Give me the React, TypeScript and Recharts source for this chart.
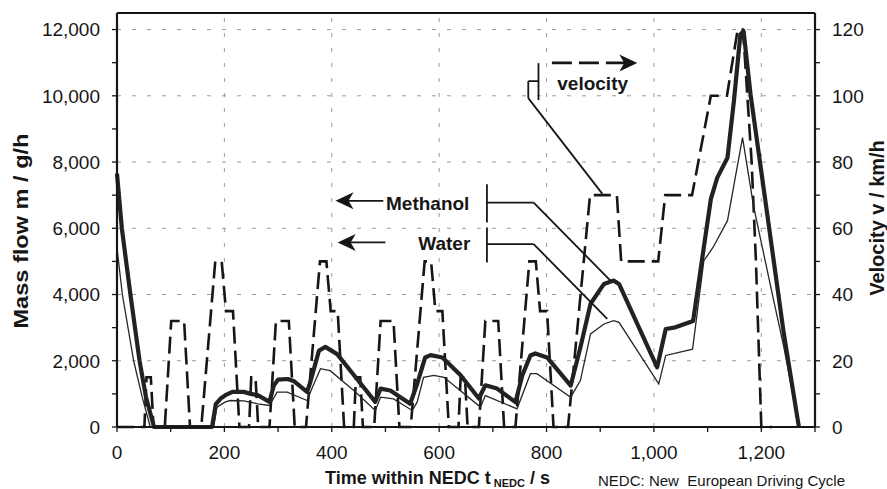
import React from "react";
import {
  LineChart, Line, XAxis, YAxis, ReferenceLine, ReferenceDot,
} from "recharts";

// velocity of the NEDC, [t in s, v in km/h]
const velocityPoints: [number, number][] = [
  [0, 0], [51, 0], [55, 15], [63, 15], [68, 0], [89, 0], [101, 32], [125, 32], [136, 0],
  [157, 0], [183, 50], [195, 50], [203, 35], [216, 35], [228, 0],
  [246, 0], [250, 15], [258, 15], [263, 0], [284, 0], [296, 32], [320, 32], [331, 0],
  [352, 0], [378, 50], [390, 50], [398, 35], [411, 35], [423, 0],
  [441, 0], [445, 15], [453, 15], [458, 0], [479, 0], [491, 32], [515, 32], [526, 0],
  [547, 0], [573, 50], [585, 50], [593, 35], [606, 35], [618, 0],
  [636, 0], [640, 15], [648, 15], [653, 0], [674, 0], [686, 32], [710, 32], [721, 0],
  [742, 0], [768, 50], [780, 50], [788, 35], [801, 35], [813, 0],
  [840, 0], [881, 70], [931, 70], [939, 50], [1008, 50], [1021, 70], [1071, 70],
  [1106, 100], [1136, 100], [1156, 120], [1166, 120], [1182, 80], [1190, 50], [1200, 0], [1220, 0],
];

// methanol mass flow, [t in s, g/h]
const methanolPoints: [number, number][] = [
  [0, 7650], [9, 6000], [25, 4000], [42, 2000], [54, 900], [69, 0], [177, 0],
  [184, 690], [193, 860], [202, 960], [215, 1060], [236, 1060], [249, 1000], [262, 960],
  [284, 760], [292, 1250], [300, 1430], [318, 1450], [330, 1380], [354, 1060], [360, 1350],
  [376, 2300], [388, 2420], [410, 2200], [447, 1450], [481, 760], [491, 1160], [509, 1100],
  [546, 700], [559, 1300], [574, 2100], [584, 2170], [606, 2100], [640, 1560], [674, 860],
  [686, 1260], [708, 1160], [742, 750], [755, 1560], [770, 2160], [779, 2220], [801, 2100],
  [845, 1250], [863, 2400], [882, 3720], [907, 4320], [925, 4420], [935, 4320], [1006, 1800],
  [1022, 2960], [1040, 3010], [1073, 3200], [1106, 6880], [1118, 7530], [1137, 8130],
  [1149, 9840], [1161, 11850], [1167, 11950], [1180, 10040], [1211, 6430], [1242, 2810], [1270, 0],
];

// water mass flow, [t in s, g/h]
const waterPoints: [number, number][] = [
  [0, 5400], [10, 4000], [31, 2000], [47, 900], [62, 0], [180, 0],
  [186, 600], [202, 760], [211, 800], [236, 790], [262, 700], [284, 650], [298, 1050],
  [317, 1050], [354, 800], [363, 1160], [379, 1760], [397, 1700], [441, 1100], [481, 500],
  [491, 900], [515, 850], [550, 500], [559, 750], [571, 1500], [590, 1560], [609, 1500],
  [677, 600], [686, 950], [745, 550], [770, 1610], [782, 1610], [845, 900], [863, 1400],
  [882, 2810], [907, 3110], [925, 3210], [935, 3160], [1009, 1300], [1022, 2160], [1072, 2350],
  [1093, 5020], [1110, 5420], [1137, 6230], [1165, 8740], [1186, 6630], [1223, 3820],
  [1242, 2410], [1270, 0],
];

const xTicks = [0, 100, 200, 300, 400, 500, 600, 700, 800, 900, 1000, 1100, 1200, 1300];
const massTicks = [0, 1000, 2000, 3000, 4000, 5000, 6000, 7000, 8000, 9000, 10000, 11000, 12000];
const velTicks = [0, 10, 20, 30, 40, 50, 60, 70, 80, 90, 100, 110, 120];
const gridX = [200, 400, 600, 800, 1000, 1200];
const gridY = [2000, 4000, 6000, 8000, 10000, 12000];

// annotation leaders in data units (t, mass flow)
const leaders: [number, number, number, number][] = [
  [766, 10443, 785, 10443], [785, 10985, 785, 9870], [766, 10443, 766, 9930], [766, 9930, 904, 7039],
  [689, 7331, 689, 6175], [689, 6777, 776, 6777], [776, 6777, 919, 4419],
  [689, 6024, 689, 4970], [689, 5524, 776, 5524], [776, 5524, 913, 3265],
  [415, 6828, 496, 6828], [419, 5572, 500, 5572],
];

const FONT = "'Liberation Sans', Arial, Helvetica, sans-serif";
const INK = "#161616";
const GRID = "#9a9a9a";

const rows = (pts: [number, number][]) => pts.map(([t, y]) => ({ t, y }));

const arrowHead = (dir: number) => (p: any) => {
  const { cx, cy } = p;
  const d = `M${cx},${cy} L${cx - dir * 18},${cy - 8.5} L${cx - dir * 13},${cy} L${cx - dir * 18},${cy + 8.5} Z`;
  return <path d={d} fill={INK} />;
};

const label = (text: string, anchor: "start" | "end") => (p: any) => (
  <text x={p.cx} y={p.cy} textAnchor={anchor} dominantBaseline="central"
    fontFamily={FONT} fontWeight="bold" fontSize={19} fill={INK}>{text}</text>
);

const tickStyle = { fontSize: 19, fill: INK, fontFamily: FONT };

export default function App() {
  return (
    <div style={{ position: "relative", width: 887, height: 489, background: "#fff" }}>
      <style>{"body{margin:0}"}</style>
      <LineChart width={887} height={489} margin={{ top: 13, right: 0, bottom: 0, left: 0 }}>
        <XAxis
          xAxisId="x" type="number" dataKey="t" domain={[0, 1300]} ticks={xTicks} height={62}
          tickFormatter={(v) => (v % 200 === 0 && v < 1300 ? v.toLocaleString("en-US") : "")}
          tick={tickStyle} tickSize={5} tickMargin={14}
          axisLine={{ stroke: INK, strokeWidth: 2.2 }} tickLine={{ stroke: INK, strokeWidth: 1.3 }}
        />
        <YAxis
          yAxisId="left" orientation="left" width={117} type="number" domain={[0, 12500]} ticks={massTicks}
          tickFormatter={(v) => (v % 2000 === 0 ? v.toLocaleString("en-US") : "")}
          tick={tickStyle} tickSize={5} tickMargin={12}
          axisLine={{ stroke: INK, strokeWidth: 2.2 }} tickLine={{ stroke: INK, strokeWidth: 1.3 }}
        />
        <YAxis
          yAxisId="right" orientation="right" width={72} type="number" domain={[0, 125]} ticks={velTicks}
          tickFormatter={(v) => (v % 20 === 0 ? String(v) : "")}
          tick={tickStyle} tickSize={5} tickMargin={12}
          axisLine={{ stroke: INK, strokeWidth: 2.2 }} tickLine={{ stroke: INK, strokeWidth: 1.3 }}
        />

        {gridX.map((v) => (
          <ReferenceLine key={"gx" + v} xAxisId="x" yAxisId="left" x={v} stroke={GRID} strokeWidth={1}
            strokeDasharray="4 11" />
        ))}
        {gridY.map((v) => (
          <ReferenceLine key={"gy" + v} xAxisId="x" yAxisId="left" y={v} stroke={GRID} strokeWidth={1}
            strokeDasharray="4 11" />
        ))}
        <ReferenceLine xAxisId="x" yAxisId="left" y={12500} stroke={INK} strokeWidth={2.2} />

        <Line data={rows(velocityPoints)} xAxisId="x" yAxisId="right" dataKey="y" type="linear"
          stroke={INK} strokeWidth={2.6} strokeDasharray="17 7" dot={false} activeDot={false}
          isAnimationActive={false} />
        <Line data={rows(waterPoints)} xAxisId="x" yAxisId="left" dataKey="y" type="linear"
          stroke="#262626" strokeWidth={1.3} dot={false} activeDot={false} isAnimationActive={false} />
        <Line data={rows(methanolPoints)} xAxisId="x" yAxisId="left" dataKey="y" type="linear"
          stroke="#222" strokeWidth={4.2} strokeLinejoin="round" dot={false} activeDot={false}
          isAnimationActive={false} />

        {leaders.map(([t1, m1, t2, m2], i) => (
          <ReferenceLine key={i} xAxisId="x" yAxisId="left" stroke={INK} strokeWidth={1.8}
            segment={[{ x: t1, y: m1 }, { x: t2, y: m2 }]} />
        ))}
        <ReferenceLine xAxisId="x" yAxisId="left" stroke={INK} strokeWidth={2.6} strokeDasharray="20 7"
          segment={[{ x: 810, y: 10994 }, { x: 955, y: 10994 }]} />
        <ReferenceDot xAxisId="x" yAxisId="left" x={407} y={6828} r={0} shape={arrowHead(-1)} />
        <ReferenceDot xAxisId="x" yAxisId="left" x={411} y={5572} r={0} shape={arrowHead(-1)} />
        <ReferenceDot xAxisId="x" yAxisId="left" x={969} y={10994} r={0} shape={arrowHead(1)} />
        <ReferenceDot xAxisId="x" yAxisId="left" x={501} y={6740} r={0} shape={label("Methanol", "start")} />
        <ReferenceDot xAxisId="x" yAxisId="left" x={658} y={5533} r={0} shape={label("Water", "end")} />
        <ReferenceDot xAxisId="x" yAxisId="left" x={820} y={10383} r={0} shape={label("velocity", "start")} />
      </LineChart>

      <svg width={887} height={489} style={{ position: "absolute", left: 0, top: 0, pointerEvents: "none" }}>
        <text x={27.5} y={231} transform="rotate(-90 27.5 231)" textAnchor="middle" fontFamily={FONT}
          fontWeight="bold" fontSize={20} fill={INK} textLength={195} lengthAdjust="spacingAndGlyphs">
          Mass flow m / g/h
        </text>
        <text x={884} y={218} transform="rotate(-90 884 218)" textAnchor="middle" fontFamily={FONT}
          fontWeight="bold" fontSize={20} fill={INK}>
          Velocity v / km/h
        </text>
        <text x={325} y={484} fontFamily={FONT} fontWeight="bold" fontSize={18} fill={INK}>
          Time within NEDC t
          <tspan fontSize={11} dy={3}> NEDC</tspan>
          <tspan dy={-3}> / s</tspan>
        </text>
        <text x={598} y={486} fontFamily={FONT} fontSize={14} fill={INK} textLength={247}
          lengthAdjust="spacingAndGlyphs">
          {"NEDC: New\u00a0 European Driving Cycle"}
        </text>
      </svg>
    </div>
  );
}
